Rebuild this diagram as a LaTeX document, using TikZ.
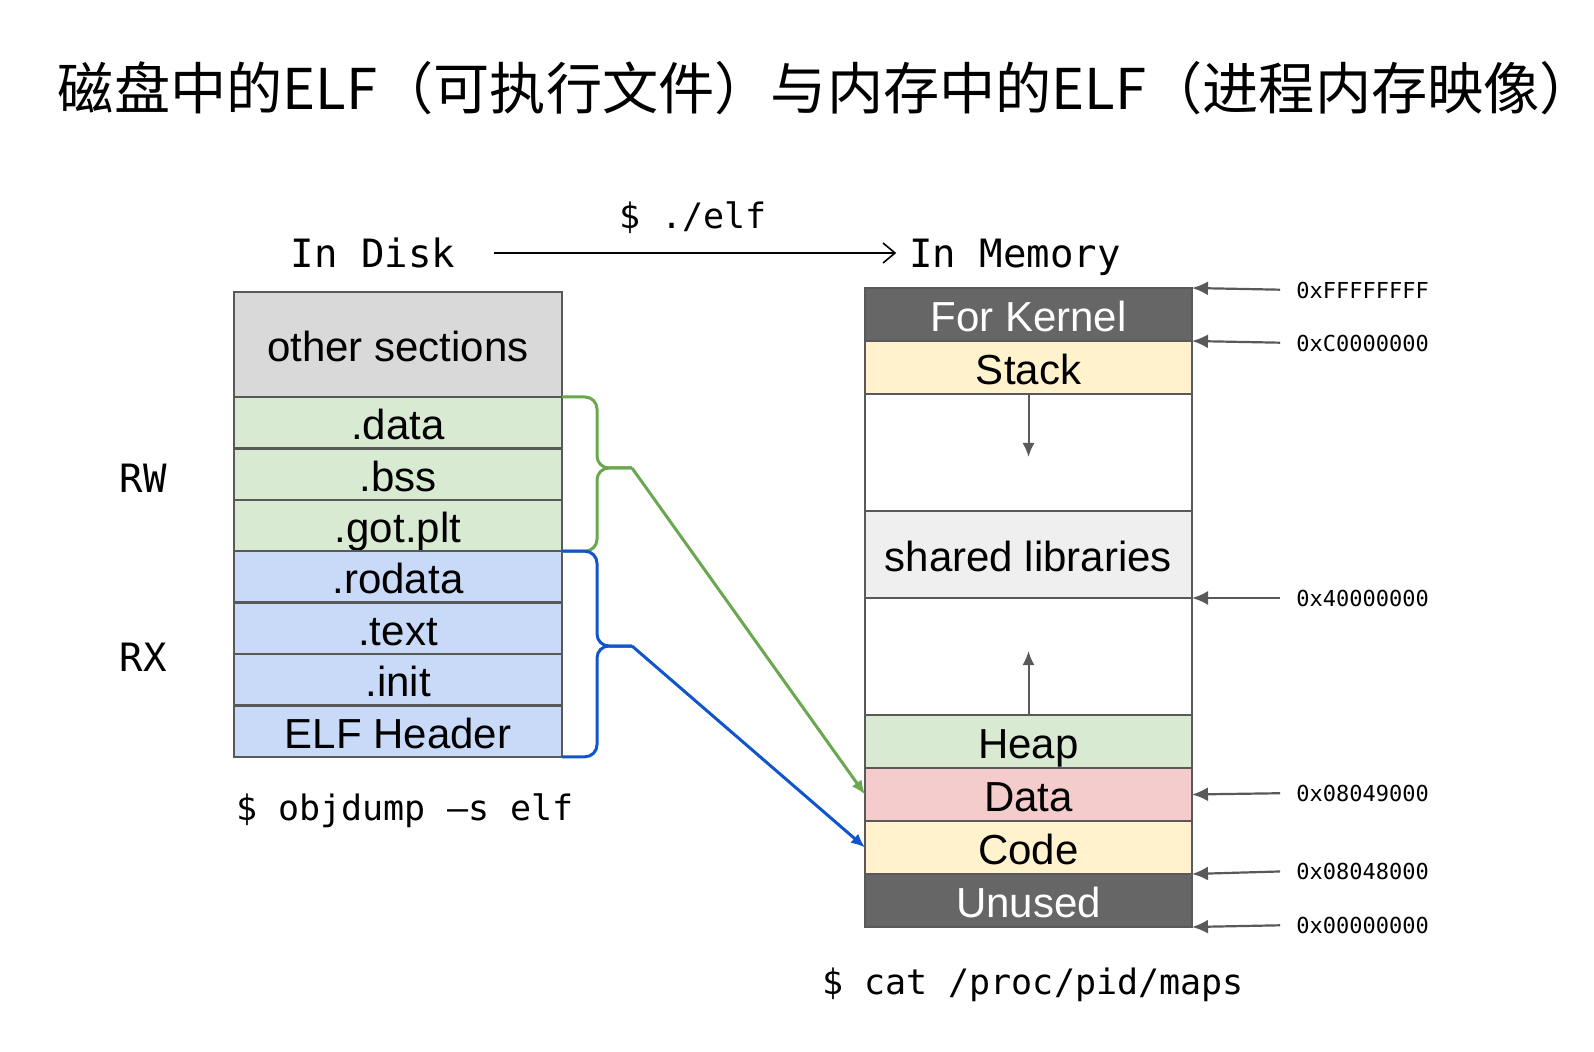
\documentclass[tikz,border=0pt]{standalone}
\usepackage{fontspec}
\setmainfont{Liberation Sans}
\setmonofont{DejaVu Sans Mono}
\newfontfamily\cjkfont{Noto Sans CJK SC}
\usetikzlibrary{positioning}
\usetikzlibrary{positioning,arrows.meta}

\definecolor{boxLine}{HTML}{595959}
\definecolor{otherFill}{HTML}{D9D9D9}
\definecolor{rwFill}{HTML}{D9EAD3}
\definecolor{rxFill}{HTML}{C9DAF8}
\definecolor{darkFill}{HTML}{666666}
\definecolor{yellowFill}{HTML}{FFF2CC}
\definecolor{redFill}{HTML}{F4CCCC}
\definecolor{sharedFill}{HTML}{EFEFEF}
\definecolor{rwGreen}{HTML}{6AA84F}
\definecolor{rxBlue}{HTML}{1155CC}

\begin{document}
\begin{tikzpicture}[x=0.5pt, y=-0.5pt]
\tikzset{
    secStyle/.style={rectangle, draw=boxLine, line width=1.25pt, outer sep=0pt, inner sep=0pt, minimum width=164pt, minimum height=25.7pt, text height=18.5pt, text depth=1.5pt, font=\fontsize{21}{25}\selectfont},
    otherStyle/.style={secStyle, fill=otherFill, minimum height=52.5pt},
    rwStyle/.style={secStyle, fill=rwFill},
    rxStyle/.style={secStyle, fill=rxFill},
    memStyle/.style={secStyle, minimum width=163.5pt, minimum height=26.5pt},
    darkStyle/.style={memStyle, fill=darkFill, text=white},
    yellowStyle/.style={memStyle, fill=yellowFill},
    heapStyle/.style={memStyle, fill=rwFill},
    dataStyle/.style={memStyle, fill=redFill},
    sharedStyle/.style={memStyle, fill=sharedFill, minimum height=43.5pt},
    emptyStyle/.style={memStyle, fill=white, minimum height=58.5pt},
    monoBig/.style={font=\ttfamily\fontsize{19.5}{22}\selectfont, text height=17pt, text depth=2pt},
    monoMid/.style={font=\ttfamily\fontsize{17.5}{20}\selectfont},
    addrStyle/.style={anchor=west, inner xsep=0pt, font=\ttfamily\fontsize{11}{13}\selectfont},
    titleStyle/.style={font=\cjkfont\fontsize{28.1}{32}\selectfont},
    rwBrace/.style={draw=rwGreen, line width=1.5pt, rounded corners=6pt},
    rxBrace/.style={draw=rxBlue, line width=1.5pt, rounded corners=6pt},
    rwArrow/.style={-{Latex[length=7pt,width=6pt]}, line width=1.5pt, rwGreen},
    rxArrow/.style={-{Latex[length=7pt,width=6pt]}, line width=1.5pt, rxBlue},
    runArrow/.style={-{Straight Barb[length=6pt,width=10pt]}, line width=0.8pt, black},
    growArrow/.style={-{Latex[length=7pt,width=6pt]}, line width=1pt, boxLine},
    addrArrow/.style={-{Latex[length=8pt,width=7pt]}, line width=1.1pt, boxLine, shorten <=8pt}
}
\useasboundingbox (0,0) rectangle (1594,1052);

% title
\node[titleStyle] (title) at (827,88) {磁盘中的ELF（可执行文件）与内存中的ELF（进程内存映像）};

% headings
\node[monoBig] (inDisk) at (373,253) {In Disk};
\node[monoBig] (inMemory) at (1015,253) {In Memory};
\node[monoMid] (runCmd) at (693,218) {\$ ./elf};
\draw[runArrow, shorten <=16pt, shorten >=3pt] (inDisk) -- (inMemory);

% ELF file on disk
\node[otherStyle] (other) at (398,344.5) {other sections};
\node[rwStyle, below=0pt of other] (data) {.data};
\node[rwStyle, below=0pt of data] (bss) {.bss};
\node[rwStyle, below=0pt of bss] (gotplt) {.got.plt};
\node[rxStyle, below=0pt of gotplt] (rodata) {.rodata};
\node[rxStyle, below=0pt of rodata] (text) {.text};
\node[rxStyle, below=0pt of text] (init) {.init};
\node[rxStyle, below=0pt of init] (elfheader) {ELF Header};

\node[monoBig] (rwLabel) at (143,478) {RW};
\node[monoBig] (rxLabel) at (143,656) {RX};
\node[monoMid] (objdumpCmd) at (405,811) {\$ objdump –s elf};

% process image in memory
\node[darkStyle] (kernel) at (1028.5,314.5) {For Kernel};
\node[yellowStyle, below=0pt of kernel] (stack) {Stack};
\node[emptyStyle, below=0pt of stack] (gapTop) {};
\node[sharedStyle, below=0pt of gapTop] (shared) {shared libraries};
\node[emptyStyle, below=0pt of shared] (gapBottom) {};
\node[heapStyle, below=0pt of gapBottom] (heap) {Heap};
\node[dataStyle, below=0pt of heap] (dataseg) {Data};
\node[yellowStyle, below=0pt of dataseg] (code) {Code};
\node[darkStyle, below=0pt of code] (unused) {Unused};

\node[monoMid] (mapsCmd) at (1033,985) {\$ cat /proc/pid/maps};

\draw[growArrow, shorten >=27pt] (stack.south) -- (gapTop.south);
\draw[growArrow, shorten >=26.5pt] (heap.north) -- (gapBottom.north);

% addresses
\node[addrStyle] (addrTop) at (1296,290) {0xFFFFFFFF};
\node[addrStyle] (addrKernel) at (1296,343) {0xC0000000};
\node[addrStyle] (addrShared) at (1296,598) {0x40000000};
\node[addrStyle] (addrData) at (1296,793) {0x08049000};
\node[addrStyle] (addrCode) at (1296,871) {0x08048000};
\node[addrStyle] (addrZero) at (1296,925) {0x00000000};

\draw[addrArrow] (addrTop.west) -- (kernel.north east);
\draw[addrArrow] (addrKernel.west) -- (stack.north east);
\draw[addrArrow] (addrShared.west) -- (shared.south east);
\draw[addrArrow] (addrData.west) -- (dataseg.east);
\draw[addrArrow] (addrCode.west) -- (code.south east);
\draw[addrArrow] (addrZero.west) -- (unused.south east);

% braces and mapping
\coordinate (rwTip) at (632,468);
\coordinate (rxTip) at (632,646);
\draw[rwBrace] (data.north east) -| ([xshift=-17.5pt]rwTip) -- (rwTip);
\draw[rwBrace] (gotplt.south east) -| ([xshift=-17.5pt]rwTip) -- (rwTip);
\draw[rxBrace] (rodata.north east) -| ([xshift=-17.5pt]rxTip) -- (rxTip);
\draw[rxBrace] (elfheader.south east) -| ([xshift=-17.5pt]rxTip) -- (rxTip);

\draw[rwArrow] (rwTip) -- (dataseg.west);
\draw[rxArrow] (rxTip) -- (code.west);

\end{tikzpicture}
\end{document}
